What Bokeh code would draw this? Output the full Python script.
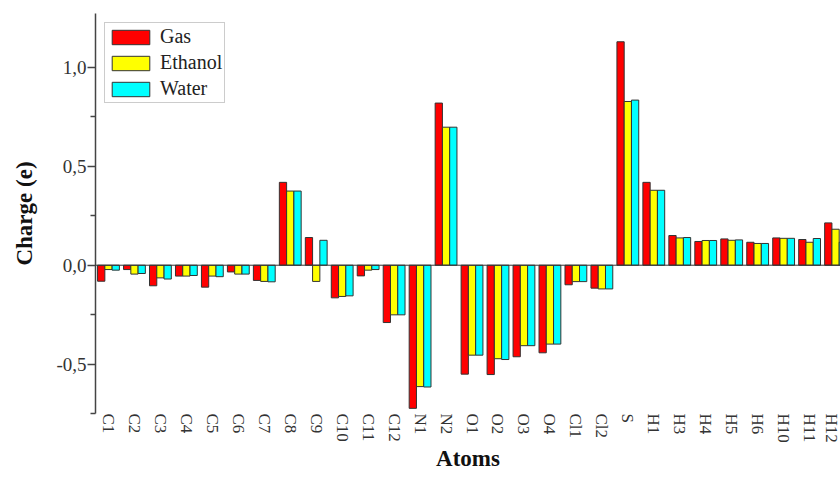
from bokeh.plotting import figure
from bokeh.models import (Range1d, FixedTicker, Span, ColumnDataSource, Legend,
                          LegendItem, CustomJSTickFormatter)
from bokeh.transform import dodge
from bokeh.embed import file_html
from bokeh.resources import INLINE

atoms = ["C1", "C2", "C3", "C4", "C5", "C6", "C7", "C8", "C9", "C10", "C11", "C12",
         "N1", "N2", "O1", "O2", "O3", "O4", "Cl1", "Cl2", "S",
         "H1", "H3", "H4", "H5", "H6", "H10", "H11", "H12"]
gas = [-0.081, -0.022, -0.104, -0.055, -0.111, -0.034, -0.077, 0.419, 0.140, -0.165, -0.054, -0.290,
       -0.724, 0.820, -0.551, -0.553, -0.463, -0.443, -0.099, -0.116, 1.130,
       0.419, 0.150, 0.120, 0.133, 0.116, 0.138, 0.130, 0.214]
ethanol = [-0.022, -0.045, -0.064, -0.055, -0.055, -0.045, -0.082, 0.375, -0.082, -0.158, -0.025, -0.251,
           -0.614, 0.698, -0.455, -0.473, -0.407, -0.399, -0.083, -0.120, 0.828,
           0.379, 0.138, 0.125, 0.126, 0.110, 0.136, 0.116, 0.182]
water = [-0.025, -0.042, -0.070, -0.052, -0.058, -0.045, -0.084, 0.375, 0.126, -0.155, -0.022, -0.251,
         -0.616, 0.698, -0.455, -0.477, -0.407, -0.399, -0.083, -0.120, 0.835,
         0.379, 0.140, 0.125, 0.128, 0.110, 0.136, 0.135, 0.116]
y_major = [-0.5, 0.0, 0.5, 1.0]
y_minor = [-0.75, -0.25, 0.25, 0.75]

src = ColumnDataSource(dict(x=list(range(len(atoms))), gas=gas, ethanol=ethanol, water=water))

FONT = "Liberation Serif"

p = figure(width=840, height=477, output_backend="svg", toolbar_location=None,
           x_range=Range1d(-0.5, 28.19), y_range=Range1d(-0.75, 1.273),
           min_border_left=95, min_border_top=13, min_border_right=0, min_border_bottom=64)
p.outline_line_color = None
p.grid.visible = False
p.background_fill_color = "white"
p.border_fill_color = "white"

bw = 0.28
line = "#333333"
r_gas = p.vbar(x=dodge("x", -bw, range=p.x_range), top="gas", bottom=0, width=bw, source=src,
               fill_color="#FF0000", line_color=line, line_width=1)
r_eth = p.vbar(x=dodge("x", 0.0, range=p.x_range), top="ethanol", bottom=0, width=bw, source=src,
               fill_color="#FFFF00", line_color=line, line_width=1)
r_wat = p.vbar(x=dodge("x", bw, range=p.x_range), top="water", bottom=0, width=bw, source=src,
               fill_color="#00FFFF", line_color=line, line_width=1)

p.add_layout(Span(location=0, dimension="width", line_color="#333333", line_width=1))

# y axis
ya = p.yaxis[0]
ya.ticker = FixedTicker(ticks=y_major, minor_ticks=y_minor)
ya.formatter = CustomJSTickFormatter(code="return tick.toFixed(1).replace('.', ',')")
ya.axis_line_color = "#444444"
ya.axis_line_width = 1.5
ya.major_tick_line_color = "#444444"
ya.minor_tick_line_color = "#444444"
ya.major_tick_line_width = 1.5
ya.minor_tick_line_width = 1.5
ya.major_tick_out = 8
ya.major_tick_in = 0
ya.minor_tick_out = 5
ya.minor_tick_in = 0
ya.major_label_text_font = FONT
ya.major_label_text_font_size = "19px"
ya.major_label_text_color = "#333333"
ya.major_label_standoff = 1
ya.axis_label = "Charge (e)"
ya.axis_label_text_font = FONT
ya.axis_label_text_font_style = "bold"
ya.axis_label_text_font_size = "23px"
ya.axis_label_text_color = "#111111"
ya.axis_label_standoff = 16

# x axis
xa = p.xaxis[0]
xa.ticker = FixedTicker(ticks=list(range(len(atoms))))
xa.formatter = CustomJSTickFormatter(args=dict(labels=atoms),
                                     code="return labels[Math.round(tick)] || ''")
xa.axis_line_color = None
xa.major_tick_line_color = None
xa.minor_tick_line_color = None
xa.major_tick_out = 0
xa.major_tick_in = 0
xa.minor_tick_out = 0
xa.minor_tick_in = 0
xa.major_label_orientation = "vertical"
xa.major_label_standoff = 0
xa.major_label_text_font = FONT
xa.major_label_text_font_size = "17px"
xa.major_label_text_color = "#333333"
xa.axis_label = "Atoms"
xa.axis_label_text_font = FONT
xa.axis_label_text_font_style = "bold"
xa.axis_label_text_font_size = "23px"
xa.axis_label_text_color = "#111111"
xa.axis_label_standoff = 0

legend = Legend(items=[LegendItem(label="Gas", renderers=[r_gas]),
                       LegendItem(label="Ethanol", renderers=[r_eth]),
                       LegendItem(label="Water", renderers=[r_wat])],
                location="top_left")
legend.label_text_font = FONT
legend.label_text_font_size = "20px"
legend.label_text_color = "#222222"
legend.glyph_width = 47
legend.glyph_height = 18
legend.label_height = 18
legend.label_standoff = 6
legend.spacing = 3
legend.padding = 2
legend.margin = 9
legend.border_line_color = "#999999"
legend.border_line_width = 1
legend.background_fill_alpha = 1
p.add_layout(legend, "center")

open("out.html", "w").write(file_html(p, INLINE))
